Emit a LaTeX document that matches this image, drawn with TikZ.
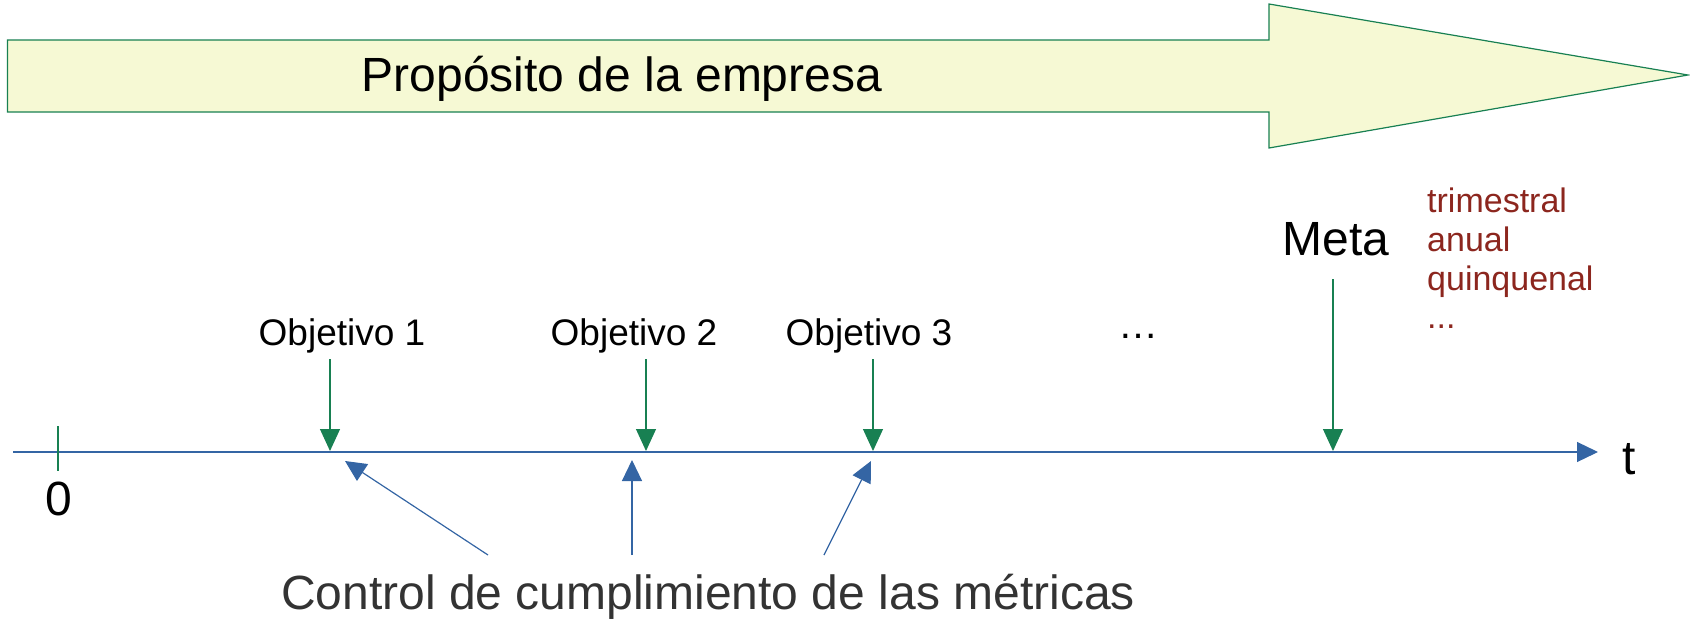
\documentclass[tikz,border=0pt]{standalone}
\usepackage{fontspec}
\setmainfont{Liberation Sans}
\usetikzlibrary{arrows.meta}
\definecolor{ggreen}{RGB}{24,128,82}
\definecolor{bblue}{RGB}{52,101,164}
\definecolor{lyellow}{RGB}{246,249,212}
\definecolor{dred}{RGB}{140,38,30}
\definecolor{dgray}{RGB}{51,51,51}
\tikzset{
  garrow/.style={draw=ggreen, line width=1.2pt, -{Triangle[length=22pt,width=20pt]}, color=ggreen},
  barrow/.style={draw=bblue, line width=1.2pt, -{Triangle[length=21pt,width=20pt]}, color=bblue},
  lbl/.style={inner sep=0pt, anchor=base},
  redlbl/.style={inner sep=0pt, anchor=base west, text=dred, font=\fontsize{34}{38}\selectfont},
}
\begin{document}
\begin{tikzpicture}[x=1pt,y=-1pt]
\useasboundingbox (0,0) rectangle (1690,619);
% big arrow
\draw[ggreen, fill=lyellow, line width=1.2pt, line join=miter]
  (7.5,40) -- (1269,40) -- (1269,4) -- (1688,75) -- (1269,148) -- (1269,112) -- (7.5,112) -- cycle;
\node[lbl] (prop) at (622,91) {\fontsize{48}{56}\selectfont Propósito de la empresa};
% timeline
\coordinate (tl0) at (13,452);
\coordinate (tlend) at (1598,452);
\draw[barrow] (tl0) -- (tlend);
\node[lbl] (t) at (1629,474) {\fontsize{48}{56}\selectfont t};
% tick 0
\coordinate (tk1) at (58,426);
\coordinate (tk2) at (58,471);
\draw[ggreen, line width=1.2pt] (tk1) -- (tk2);
\node[lbl] (zero) at (59,515) {\fontsize{48}{56}\selectfont 0};
% objectives
\node[lbl] (ob1) at (342,345) {\fontsize{37}{44}\selectfont Objetivo 1};
\node[lbl] (ob2) at (634,345) {\fontsize{37}{44}\selectfont Objetivo 2};
\node[lbl] (ob3) at (869,345) {\fontsize{37}{44}\selectfont Objetivo 3};
\node[lbl] (dots) at (1138,338) {\fontsize{40}{48}\selectfont …};
\node[lbl] (meta) at (1336,255) {\fontsize{48}{56}\selectfont Meta};
\node[redlbl] (l1) at (1427,212) {trimestral};
\node[redlbl] (l2) at (1427,251) {anual};
\node[redlbl] (l3) at (1427,290) {quinquenal};
\node[redlbl] (l4) at (1427,328) {...};
\coordinate (a1s) at (330,359); \coordinate (a1e) at (330,451);
\coordinate (a2s) at (646,359); \coordinate (a2e) at (646,451);
\coordinate (a3s) at (873,359); \coordinate (a3e) at (873,451);
\coordinate (a4s) at (1333,279); \coordinate (a4e) at (1333,451);
\draw[garrow] (a1s) -- (a1e);
\draw[garrow] (a2s) -- (a2e);
\draw[garrow] (a3s) -- (a3e);
\draw[garrow] (a4s) -- (a4e);
% control arrows
\node[lbl, text=dgray] (ctrl) at (708,609) {\fontsize{48}{56}\selectfont Control de cumplimiento de las métricas};
\coordinate (b1s) at (488,555); \coordinate (b1e) at (345,461);
\coordinate (b2s) at (632,555); \coordinate (b2e) at (632,460);
\coordinate (b3s) at (824,555); \coordinate (b3e) at (871,461);
\draw[barrow] (b1s) -- (b1e);
\draw[barrow] (b2s) -- (b2e);
\draw[barrow] (b3s) -- (b3e);
\end{tikzpicture}
\end{document}
